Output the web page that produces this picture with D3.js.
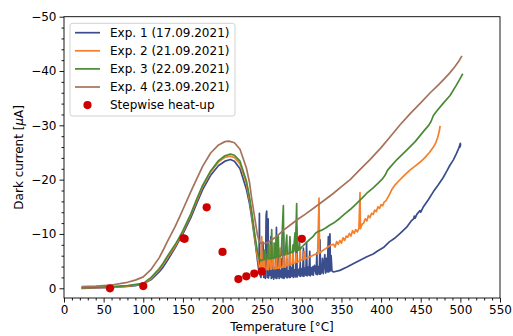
<!DOCTYPE html>
<html><head><meta charset="utf-8">
<script src="https://cdn.jsdelivr.net/npm/d3@7"></script>
<style>body{margin:0;background:#fff}svg{display:block}text{font-family:"DejaVu Sans",sans-serif;fill:#000}</style>
</head><body>
<script>
const xTicks = [0,50,100,150,200,250,300,350,400,450,500,550];
const yTicks = [0,-10,-20,-30,-40,-50];
const seriesNames = ["Exp. 1 (17.09.2021)","Exp. 2 (21.09.2021)","Exp. 3 (22.09.2021)","Exp. 4 (23.09.2021)"];
const seriesColors = ["#3a4d8c","#f57f2a","#4a8a35","#a5725a"];
const pointName = "Stepwise heat-up";

const exp1 = [[22,0],[40,-0.05],[60,-0.15],[80,-0.35],[90,-0.5],[100,-0.8],[110,-1.6],[120,-3.0],[125,-3.9],[130,-5.0],[140,-7.4],[146,-9.0],[150,-10.0],[160,-13.0],[167,-15.5],[175,-18.2],[185,-20.8],[195,-22.6],[203,-23.4],[210,-23.7],[215,-23.4],[222,-22.0],[230,-18.3],[234,-15.6],[237,-12.8],[241,-8.6],[244,-5.2],[246,-3.0],
[246.5,-13.8],[247,-2.6],[248.5,-2.0],[249,-4.0],[250,-2.6],[251,-8.5],[252,-2.0],[253,-3.5],[254,-1.8],[255,-13.5],[255.7,-14.2],[256.5,-2.0],[257.5,-12.8],[258,-1.9],[259,-3.6],[260,-2.4],[261,-9.5],[261.5,-1.8],[262.5,-3.4],[263,-2.0],[264,-7.5],[264.5,-1.7],[266,-3.8],[267,-1.9],[268,-11.2],[268.6,-1.8],[269.5,-3.5],[270,-2.2],[271,-6.5],[271.5,-1.8],[273,-3.3],[274,-2.0],[275,-5.5],[275.5,-1.9],[277,-10.2],[277.6,-1.8],[279,-3.6],[280,-2.1],[281,-5.5],[281.5,-1.9],[283,-3.2],[284,-2.0],[285,-8.9],[285.6,-2.0],[287,-3.8],[288,-2.2],[289,-6.0],[289.5,-2.0],[291,-3.4],[292,-2.1],[293.5,-11.2],[294.1,-2.1],[296,-3.5],[297,-2.3],[298,-4.8],[298.5,-2.2],[300,-3.6],[301,-2.3],[302,-7.4],[302.6,-2.2],[304,-3.7],[305,-2.4],[306,-8.4],[306.6,-2.3],[308,-3.9],[309,-2.4],[310,-6.8],[310.6,-2.3],[312,-3.8],[313,-2.5],[314,-4.0],[314.5,-2.4],[316,-4.2],[318,-2.6],[319,-6.5],[319.5,-2.5],[321,-4.0],[322,-2.6],[323,-8.9],[323.6,-2.6],[325,-3.0],[326,-5.5],[327,-2.7],[328,-4.5],[329,-6.2],[330,-2.8],[331,-5.5],[332,-3.0],[333.5,-9.5],[334,-3.0],[335.5,-10.0],[336,-3.2],[337,-6.0],[338,-3.2],[340,-3.0],
[348,-3.3],[357,-3.9],[366,-4.6],[374,-5.2],[382,-5.8],[390,-6.3],[396,-6.9],[403,-7.5],[410,-8.5],[417,-9.2],[424,-10.1],[432,-11.2],[438,-12.4],[441,-12.8],[442,-13.3],[443,-12.9],[445,-13.6],[449,-14.3],[450,-14.0],[453,-14.9],[460,-16.4],[466,-17.8],[472,-19.0],[478,-20.3],[483,-21.6],[487,-22.7],[491,-23.6],[495,-24.8],[498,-25.8],[500,-26.7],[499.5,-26.0],[500.5,-26.5]];

const exp2 = [[22,-0.05],[60,-0.2],[80,-0.4],[100,-0.8],[110,-1.8],[120,-3.4],[125,-4.4],[130,-5.5],[140,-7.7],[146,-9.3],[150,-10.4],[160,-13.5],[167,-16.0],[175,-18.8],[185,-21.4],[195,-23.3],[203,-24.1],[209,-24.3],[215,-24.1],[222,-22.9],[230,-19.3],[234,-16.3],[237,-13.4],[241,-9.0],[244,-5.8],[246.5,-3.8],[248,-3.3],
[249.4,-9.5],[250,-3.3],[251.5,-3.4],[253,-7.0],[253.5,-3.4],[256,-3.5],[257,-6.5],[257.5,-3.4],[259.9,-7.9],[260.5,-3.5],[262,-3.5],[264,-8.3],[264.6,-3.6],[267,-3.6],[268,-6.0],[268.5,-3.7],[271,-3.7],[272.5,-7.4],[273,-3.8],[276,-3.9],[277,-6.3],[277.5,-3.9],[280,-4.1],[281,-6.8],[281.5,-4.2],[284,-4.3],[285,-7.0],[285.5,-4.3],[288,-4.5],[289,-7.6],[289.5,-4.6],[292,-4.7],[293,-6.4],[293.5,-4.8],[297,-5.0],[298,-7.4],[298.5,-5.1],[302,-5.3],[303,-6.8],[303.5,-5.4],[308,-5.7],[312,-5.9],[316,-6.2],[320,-6.4],[321.7,-16.6],[322.4,-6.5],[326,-6.9],[330,-7.3],[334,-7.7],[337,-8.0],[340,-8.1],
[342,-7.6],[344,-8.6],[346,-8.1],[348,-8.8],[350,-8.3],[352,-9.3],[354,-8.8],[356,-9.6],[358,-9.4],[360,-10.1],[362,-9.6],[364,-10.6],[366,-10.1],[368,-10.8],[370,-10.4],[372,-11.0],[373.4,-17.6],[374,-11.0],[376,-11.8],[378,-12.0],[380,-12.8],[382,-12.4],[384,-13.4],[386,-13.0],[388,-13.8],[390,-13.6],[392,-14.4],[394,-14.1],[396,-15.0],[398,-14.7],[400,-15.4],[402,-15.2],[404,-15.9],[406,-16.1],[410,-17.1],[414,-18.3],[418,-19.1],[422,-19.7],[428,-20.6],[436,-21.7],[442,-22.4],[449,-23.2],[455,-24.0],[461,-25.0],[466,-26.0],[469,-26.8],[471.5,-27.8],[473.5,-29.0],[474.5,-29.9]];

const exp3 = [[22,-0.1],[60,-0.3],[80,-0.5],[100,-0.9],[110,-2.0],[120,-3.6],[125,-4.6],[130,-5.8],[140,-8.0],[146,-9.5],[150,-10.6],[160,-13.7],[167,-16.3],[175,-19.0],[185,-21.6],[195,-23.5],[203,-24.4],[210,-24.7],[215,-24.5],[222,-23.4],[230,-19.8],[234,-16.8],[237,-13.9],[241,-9.6],[244,-6.8],[246.5,-5.4],[248,-5.1],
[250,-5.2],[252,-5.3],[253,-7.0],[253.5,-5.3],[256,-5.4],[258,-8.5],[258.5,-5.4],[261,-5.5],[262,-10.8],[262.6,-5.5],[265,-5.6],[266,-8.3],[266.5,-5.6],[268,-9.5],[268.6,-5.7],[270.3,-9.6],[271,-5.8],[274,-6.0],[276.7,-15.2],[277.3,-6.1],[279,-6.2],[281,-9.8],[281.6,-6.3],[284,-6.4],[285,-9.5],[285.6,-6.5],[288,-6.6],[289,-8.0],[289.5,-6.7],[291.4,-10.2],[292,-6.8],[293.5,-15.6],[294.1,-6.9],[296,-7.0],[297,-9.0],[297.5,-7.1],[300,-7.6],
[305,-8.3],[310,-9.0],[314,-9.5],[317,-10.1],[320,-10.4],[325,-10.7],[330,-11.1],[335,-11.6],[340,-12.0],[348,-12.9],[355,-13.8],[361,-14.5],[369,-15.6],[376,-16.6],[382,-17.5],[390,-18.5],[396,-19.3],[402,-20.2],[405,-20.8],[408,-21.7],[412,-22.4],[420,-23.7],[432,-25.4],[443,-27.0],[453,-28.8],[460,-30.0],[463,-30.7],[466,-31.8],[470,-32.6],[478,-34.0],[487,-35.5],[495,-37.4],[500,-38.7],[503,-39.5]];

const exp4 = [[22,-0.3],[40,-0.4],[60,-0.6],[80,-1.1],[90,-1.5],[100,-2.1],[110,-3.5],[120,-5.6],[125,-7.0],[130,-8.5],[140,-11.3],[146,-13.2],[150,-14.5],[160,-17.8],[167,-20.0],[175,-22.5],[185,-24.9],[195,-26.4],[203,-27.0],[208,-27.1],[215,-26.8],[222,-25.6],[230,-22.2],[234,-19.5],[237,-16.3],[241,-12.6],[244,-9.8],[246.5,-8.5],[250,-8.2],[255,-8.3],[260,-8.7],[265,-9.2],[270,-9.8],[277,-10.7],[285,-11.6],[295,-12.7],[305,-13.7],[319,-15.2],[330,-16.4],[340,-17.5],[350,-18.7],[361,-20.0],[373,-21.8],[386,-23.7],[400,-25.9],[412,-28.0],[424,-30.1],[437,-32.2],[449,-34.0],[462,-36.0],[472,-37.4],[480,-38.6],[487,-39.7],[493,-40.8],[498,-41.8],[502,-42.8]];

const stepTemp = [58,100,150.8,152.2,180,200,220,230,240,249.5,300];
const stepCurrent = [0,-0.4,-9.2,-9.1,-14.9,-6.7,-1.7,-2.2,-2.7,-3.1,-9.1];

const W = 513, H = 336;
const svg = d3.select("body").append("svg").attr("width",W).attr("height",H);
const L = 64, R = 500, T = 16.7, B = 298;
const x = d3.scaleLinear().domain([0,550]).range([L,R]);
const y = d3.scaleLinear().domain([1.79,-50]).range([B,T]);

const clipId = "plotclip";
svg.append("clipPath").attr("id",clipId).append("rect").attr("x",L).attr("y",T).attr("width",R-L).attr("height",B-T);

const plot = svg.append("g").attr("clip-path",`url(#${clipId})`);
const line = d3.line().x(d=>x(d[0])).y(d=>y(d[1]));
[exp1,exp2,exp3,exp4].forEach((s,i)=>{
  plot.append("path").datum(s).attr("d",line).attr("fill","none")
    .attr("stroke",seriesColors[i]).attr("stroke-width",1.7).attr("stroke-linejoin","round");
});
svg.append("g").selectAll("circle").data(stepTemp.map((t,i)=>[t,stepCurrent[i]])).join("circle")
  .attr("cx",d=>x(d[0])).attr("cy",d=>y(d[1])).attr("r",4.1).attr("fill","#cc0000");

// axes
const xAxis = d3.axisBottom(x).tickValues(xTicks).tickSize(4.5).tickPadding(3).tickFormat(d3.format("d"));
svg.append("g").attr("transform",`translate(0,${B})`).call(xAxis);
const xMinor = d3.range(0,551,10).filter(v=>v%50!==0);
svg.append("g").attr("transform",`translate(0,${B})`).call(d3.axisBottom(x).tickValues(xMinor).tickSize(2.5).tickFormat(""));
const fmtY = d=> d<0 ? "\u2212"+Math.abs(d) : String(d);
svg.append("g").attr("transform",`translate(${L},0)`).call(d3.axisLeft(y).tickValues(yTicks).tickSize(4.5).tickPadding(3).tickFormat(fmtY));
const yMinor = d3.range(-50,1,2).filter(v=>v%10!==0);
svg.append("g").attr("transform",`translate(${L},0)`).call(d3.axisLeft(y).tickValues(yMinor).tickSize(2.5).tickFormat(""));
svg.selectAll(".domain").remove();
svg.selectAll(".tick line").attr("stroke","#000").attr("stroke-width",0.9);
svg.selectAll(".tick text").attr("font-size","12px").attr("font-family","DejaVu Sans").attr("fill","#000");
svg.append("rect").attr("x",L).attr("y",T).attr("width",R-L).attr("height",B-T)
  .attr("fill","none").attr("stroke","#000").attr("stroke-width",0.9);

svg.append("text").attr("x",(L+R)/2).attr("y",331).attr("text-anchor","middle").attr("font-size","12px").text("Temperature [°C]");
const yl = svg.append("text").attr("transform",`translate(22.5,${(T+B)/2}) rotate(-90)`).attr("text-anchor","middle").attr("font-size","12px");
yl.append("tspan").text("Dark current [");
yl.append("tspan").attr("font-style","italic").text("\u03bc");
yl.append("tspan").text("A]");

// legend
const lg = svg.append("g");
lg.append("rect").attr("x",70).attr("y",23.3).attr("width",165).attr("height",92.7).attr("rx",2.5)
  .attr("fill","#fff").attr("fill-opacity",0.8).attr("stroke","#cccccc").attr("stroke-width",0.9);
const rowY = i=>32.7+i*18.1;
seriesNames.forEach((n,i)=>{
  lg.append("line").attr("x1",75).attr("x2",100).attr("y1",rowY(i)).attr("y2",rowY(i)).attr("stroke",seriesColors[i]).attr("stroke-width",1.7);
  lg.append("text").attr("x",110).attr("y",rowY(i)+4.3).attr("font-size","12px").text(n);
});
lg.append("circle").attr("cx",87.5).attr("cy",rowY(4)).attr("r",4.1).attr("fill","#cc0000");
lg.append("text").attr("x",110).attr("y",rowY(4)+4.3).attr("font-size","12px").text(pointName);
</script>
</body></html>
